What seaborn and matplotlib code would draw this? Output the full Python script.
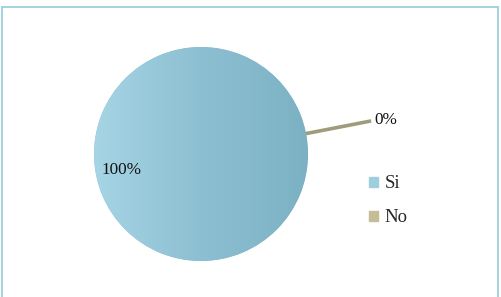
import numpy as np
import matplotlib
matplotlib.use("Agg")
import matplotlib.pyplot as plt
import matplotlib.patches as mpatches
from matplotlib.colors import LinearSegmentedColormap
import seaborn as sns

categories = ["Si", "No"]
values = [100, 0]
pct_labels = ["100%", "0%"]
colors = ["#8fc1d3", "#a09c7b"]
legend_colors = ["#9fcfdf", "#c4bd97"]

sns.set_theme(style="white")
plt.rcParams["font.family"] = ["Liberation Serif", "DejaVu Serif"]

W, H = 501, 297
fig = plt.figure(figsize=(W / 100, H / 100), dpi=100)
ax = fig.add_axes([0, 0, 1, 1])

cx, cy, R = 201, H - 154, 107
wedges, _ = ax.pie(values, colors=colors, startangle=11, counterclock=True,
                   center=(cx, cy), radius=R, explode=[0, 0.62 * R],
                   wedgeprops=dict(linewidth=0), frame=True)
ax.axis("off")
ax.set_xlim(0, W)
ax.set_ylim(0, H)
ax.set_aspect("equal")

si = wedges[0]
# close the full slice exactly (float rounding leaves a hair gap otherwise)
si.set_theta2(si.theta1 + 360.0 * values[0] / sum(values))
si.set_zorder(1)

# gradient fill on main slice
cmap = LinearSegmentedColormap.from_list("g", ["#a6d5e5", "#8cbfd1", "#7cb1c4"])
grad = np.linspace(0, 1, 256).reshape(1, -1)
im = ax.imshow(grad, cmap=cmap, extent=(cx - R, cx + R, cy - R, cy + R),
               aspect="auto", zorder=2)
im.set_clip_path(si)
ax.set_xlim(0, W)
ax.set_ylim(0, H)

# zero-value sliver drawn as its wedge edge
no = wedges[1]
no.set_edgecolor(colors[1])
no.set_linewidth(2.6)
no.set_zorder(0.5)

# percentage labels
dists = [0.76, 1.76]
offs = [0, -2]
for w, lab, d, o in zip(wedges, pct_labels, dists, offs):
    ang = np.deg2rad((w.theta1 + w.theta2) / 2) if w is si else np.deg2rad(w.theta1)
    x = cx + d * R * np.cos(ang)
    y = cy + d * R * np.sin(ang) + o
    ax.text(x, y, lab, ha="center", va="center", fontsize=12.3, color="#111111",
            zorder=5)

handles = [mpatches.Patch(color=c, label=l) for c, l in zip(legend_colors, categories)]
fig.legend(handles=handles, loc="upper left", bbox_to_anchor=(360 / W, 1 - 166 / H),
           frameon=False, fontsize=13.5, handlelength=0.45, handleheight=0.45,
           handletextpad=0.35, labelspacing=0.9, borderpad=0)

border = mpatches.Rectangle((1.5 / W, -0.05), 496 / W, 1 - 6.5 / H + 0.05,
                            transform=fig.transFigure, fill=False,
                            edgecolor="#9ccfdc", linewidth=1.3)
fig.patches.append(border)

fig.savefig("out.png", dpi=100)
